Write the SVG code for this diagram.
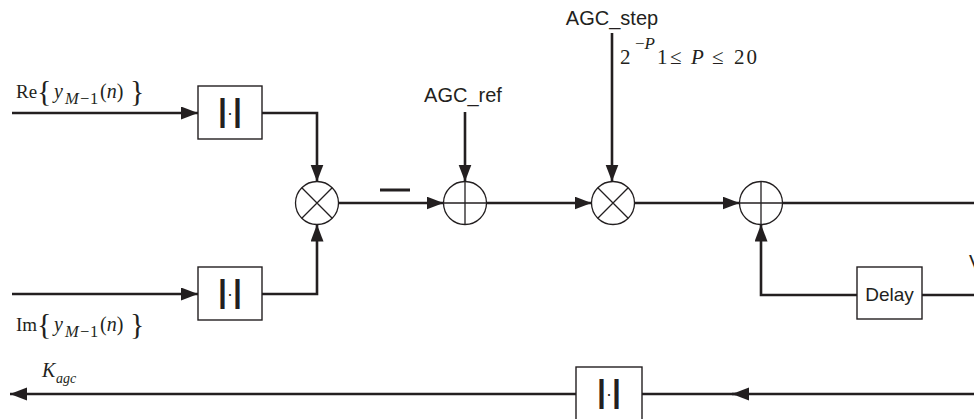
<svg xmlns="http://www.w3.org/2000/svg" width="974" height="419" viewBox="0 0 974 419">
<style>
.blk{fill:#fff;stroke:#231f20;stroke-width:1.4}
.sym{fill:none;stroke:#231f20;stroke-width:1.3}
.con{fill:none;stroke:#231f20;stroke-width:2.6}
.sans{font-family:"Liberation Sans",Arial,sans-serif;fill:#231f20}
.ser{font-family:"Liberation Serif","Times New Roman",serif;fill:#231f20}
.it{font-style:italic}
.abs{font-family:"Liberation Sans",Arial,sans-serif;font-size:32px;font-weight:bold;fill:#231f20;text-anchor:middle}
.dot{font-size:18px;font-weight:normal}
</style>
<defs>
<marker id="ah" markerUnits="userSpaceOnUse" markerWidth="18" markerHeight="14" refX="17" refY="6.5" orient="auto">
<path d="M0,0 L17,6.5 L0,13 z" fill="#231f20"/>
</marker>
</defs>
<g id="connectors">
<path class="con" d="M12,113 H198" marker-end="url(#ah)"/>
<path class="con" d="M12,294 H198" marker-end="url(#ah)"/>
<path class="con" d="M262,113 H317 V181.5" marker-end="url(#ah)"/>
<path class="con" d="M262,294 H317 V224.5" marker-end="url(#ah)"/>
<path class="con" d="M338.5,203 H443.5" marker-end="url(#ah)"/>
<path class="con" d="M465,112 V181.5" marker-end="url(#ah)"/>
<path class="con" d="M486.5,203 H591.5" marker-end="url(#ah)"/>
<path class="con" d="M612,33 V181.5" marker-end="url(#ah)"/>
<path class="con" d="M634.5,203 H739.5" marker-end="url(#ah)"/>
<path class="con" d="M782.5,203 H974"/>
<path class="con" d="M974,295 H922"/>
<path class="con" d="M857,295 H761 V224.5" marker-end="url(#ah)"/>
<path class="con" d="M974,394 H732" marker-end="url(#ah)"/>
<path class="con" d="M736,394 H642"/>
<path class="con" d="M576,394 H10" marker-end="url(#ah)"/>
<path d="M380,190 H410" stroke="#231f20" stroke-width="3"/>
</g>
<g id="abs1">
<rect class="blk" x="198" y="86" width="64" height="53"/>
<text class="abs" y="121"><tspan x="222.5">|</tspan><tspan class="dot" x="230" y="119">·</tspan><tspan x="237.5" y="121">|</tspan></text>
</g>
<g id="abs2">
<rect class="blk" x="198" y="267" width="64" height="53"/>
<text class="abs" y="302"><tspan x="222.5">|</tspan><tspan class="dot" x="230" y="300">·</tspan><tspan x="237.5" y="302">|</tspan></text>
</g>
<g id="mult1">
<circle class="sym" cx="317" cy="203" r="21.5"/>
<path class="sym" d="M301.8,187.8 L332.2,218.2 M301.8,218.2 L332.2,187.8"/>
</g>
<g id="adder1">
<circle class="sym" cx="465" cy="203" r="21.5"/>
<path class="sym" d="M443.5,203 H486.5 M465,181.5 V224.5"/>
</g>
<g id="mult2">
<circle class="sym" cx="613" cy="203" r="21.5"/>
<path class="sym" d="M597.8,187.8 L628.2,218.2 M597.8,218.2 L628.2,187.8"/>
</g>
<g id="adder2">
<circle class="sym" cx="761" cy="203" r="21.5"/>
<path class="sym" d="M739.5,203 H782.5 M761,181.5 V224.5"/>
</g>
<g id="delay">
<rect class="blk" x="857" y="267" width="65" height="52"/>
<text class="sans" x="889.5" y="301" text-anchor="middle" style="font-size:19px">Delay</text>
</g>
<g id="abs3">
<rect class="blk" x="576" y="367" width="66" height="60"/>
<text class="abs" y="402"><tspan x="601.5">|</tspan><tspan class="dot" x="609" y="400">·</tspan><tspan x="616.5" y="402">|</tspan></text>
</g>
<g id="labels">
<text class="sans" x="463" y="102" text-anchor="middle" style="font-size:20px">AGC_ref</text>
<text class="sans" x="612" y="25" text-anchor="middle" style="font-size:20px">AGC_step</text>
<text class="ser" x="620" y="64" style="font-size:21px">2</text>
<text class="ser" x="635" y="49" style="font-size:17px">−<tspan class="it">P</tspan></text>
<text class="ser" x="657" y="64" style="font-size:21px">1</text>
<text class="ser" x="670" y="64" style="font-size:21px">≤</text>
<text class="ser it" x="691" y="64" style="font-size:21px">P</text>
<text class="ser" x="712" y="64" style="font-size:21px">≤</text>
<text class="ser" x="734" y="64" style="font-size:21px;letter-spacing:2px">20</text>
<text class="ser" x="16" y="98" style="font-size:19px">Re</text>
<text class="ser" x="37" y="101" style="font-size:30px">{</text>
<text class="ser it" x="54" y="98" style="font-size:20px">y</text>
<text class="ser it" x="65" y="104" style="font-size:16.5px">M</text>
<text class="ser" x="80" y="104" style="font-size:16.5px">−</text>
<text class="ser" x="90" y="104" style="font-size:16.5px">1</text>
<text class="ser" x="100" y="98" style="font-size:20px">(<tspan class="it">n</tspan>)</text>
<text class="ser" x="130" y="101" style="font-size:30px">}</text>
<text class="ser" x="16" y="331" style="font-size:19px">Im</text>
<text class="ser" x="37" y="334" style="font-size:30px">{</text>
<text class="ser it" x="54" y="331" style="font-size:20px">y</text>
<text class="ser it" x="65" y="337" style="font-size:16.5px">M</text>
<text class="ser" x="80" y="337" style="font-size:16.5px">−</text>
<text class="ser" x="90" y="337" style="font-size:16.5px">1</text>
<text class="ser" x="100" y="331" style="font-size:20px">(<tspan class="it">n</tspan>)</text>
<text class="ser" x="130" y="334" style="font-size:30px">}</text>
<text class="ser it" x="42" y="377" style="font-size:20px">K</text>
<text class="ser it" x="56" y="383" style="font-size:14px">agc</text>
<text class="sans" x="969" y="269" style="font-size:20px">V</text>
</g>
</svg>
